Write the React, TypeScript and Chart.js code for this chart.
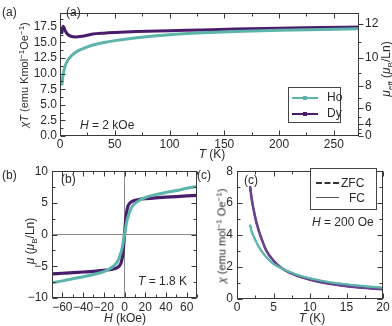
import React, { useEffect, useRef } from 'react';
import { Chart, registerables } from 'chart.js';

Chart.register(...registerables);

// ---------- Data ----------
// Panel (a): chi*T vs T at H = 2 kOe
const tA = [1.8, 2, 2.5, 3, 4, 5, 7, 10, 14, 20, 30, 40, 50, 70, 100, 130, 160, 200, 240, 273];
const chiTHo = [8.3, 8.7, 9.4, 10.0, 10.8, 11.4, 12.1, 12.8, 13.4, 13.95, 14.6, 15.0, 15.3, 15.75, 16.25, 16.55, 16.75, 16.95, 17.1, 17.2];
const chiTDy = [16.6, 16.9, 17.4, 17.6, 17.2, 16.8, 16.3, 16.0, 15.9, 16.0, 16.35, 16.5, 16.6, 16.75, 16.9, 17.0, 17.15, 17.3, 17.4, 17.5];
const xTicksA = [0, 50, 100, 150, 200, 250];
const yTicksA = [0, 2.5, 5, 7.5, 10, 12.5, 15, 17.5];
const muEffTicks = [0, 4, 6, 8, 10, 12];
const muEffMinor = [2, 3, 5, 7, 9, 11];

// Panel (b): mu vs H at T = 1.8 K
const hB = [-70, -60, -50, -40, -30, -20, -15, -10, -7, -5, -4, -3, -2, -1.5, -1, -0.5, 0, 0.5, 1, 1.5, 2, 3, 4, 5, 7, 10, 15, 20, 30, 40, 50, 60, 70];
const muHo = [-7.6, -7.3, -6.95, -6.65, -6.3, -5.85, -5.45, -4.9, -4.3, -3.6, -3.1, -2.6, -1.9, -1.45, -1.0, -0.5, 0, 0.5, 1.0, 1.45, 1.9, 2.6, 3.1, 3.6, 4.3, 4.9, 5.45, 5.85, 6.3, 6.65, 6.95, 7.3, 7.6];
const muDy = [-6.2, -6.1, -6.0, -5.9, -5.8, -5.65, -5.55, -5.4, -5.2, -4.95, -4.7, -4.3, -3.5, -2.9, -2.1, -1.1, 0, 1.1, 2.1, 2.9, 3.5, 4.3, 4.7, 4.95, 5.2, 5.4, 5.55, 5.65, 5.8, 5.9, 6.0, 6.1, 6.2];
const xTicksB = [-60, -40, -20, 0, 20, 40, 60];
const yTicksB = [-10, -5, 0, 5, 10];

// Panel (c): chi vs T at H = 200 Oe (ZFC and FC coincide)
const tC = [1.8, 2, 2.5, 3, 3.5, 4, 5, 6, 7, 8, 9, 10, 12, 14, 16, 18, 20];
const chiDy = [7.0, 6.3, 5.1, 4.25, 3.6, 3.05, 2.4, 1.97, 1.7, 1.5, 1.34, 1.21, 1.01, 0.87, 0.76, 0.68, 0.61];
const chiHo = [4.6, 4.25, 3.7, 3.25, 2.92, 2.63, 2.2, 1.94, 1.73, 1.55, 1.41, 1.3, 1.11, 0.97, 0.87, 0.78, 0.71];
const xTicksC = [0, 5, 10, 15, 20];
const yTicksC = [0, 2, 4, 6, 8];

// ---------- Styles ----------
const TEAL = '#5cb4ab';
const PURPLE = '#4a1c6c';
const AXIS = '#3a3a3a';
const TXT = '#2a2a2a';
const FONT = '"Liberation Sans", Arial, Helvetica, sans-serif';

Chart.defaults.font.family = FONT;
Chart.defaults.font.size = 12;
Chart.defaults.color = TXT;

const framePlugin = {
  id: 'frame',
  afterDraw(chart: any, _args: any, o: any) {
    const { ctx, chartArea: a, scales } = chart;
    const L = Math.round(a.left) + 0.5;
    const R = Math.round(a.right) - 0.5;
    const T = Math.round(a.top) + 0.5;
    const B = Math.round(a.bottom) - 0.5;
    ctx.save();
    ctx.strokeStyle = AXIS;
    ctx.lineWidth = 1;
    ctx.strokeRect(L, T, R - L, B - T);
    ctx.beginPath();
    const isMajor = (v: number, step: number) => Math.abs(v / step - Math.round(v / step)) < 1e-6;
    const sx = scales.x;
    let v = Math.ceil(sx.min / o.xMinor - 1e-9) * o.xMinor;
    for (; v <= sx.max + 1e-9; v += o.xMinor) {
      const px = Math.round(sx.getPixelForValue(v)) + 0.5;
      const len = isMajor(v, o.xMajor) ? 5 : 3;
      ctx.moveTo(px, B); ctx.lineTo(px, B - len);
      ctx.moveTo(px, T); ctx.lineTo(px, T + len);
    }
    const sy = scales.y;
    v = Math.ceil(sy.min / o.yMinor - 1e-9) * o.yMinor;
    for (; v <= sy.max + 1e-9; v += o.yMinor) {
      const py = Math.round(sy.getPixelForValue(v)) + 0.5;
      const len = isMajor(v, o.yMajor) ? 5 : 3;
      ctx.moveTo(L, py); ctx.lineTo(L + len, py);
      if (o.mirrorY) { ctx.moveTo(R, py); ctx.lineTo(R - len, py); }
    }
    if (o.y2) {
      const s2 = scales.y2;
      o.y2.majors.forEach((m: number) => {
        const py = Math.round(s2.getPixelForValue((m * m) / 8)) + 0.5;
        ctx.moveTo(R, py); ctx.lineTo(R + 5, py);
      });
      o.y2.minors.forEach((m: number) => {
        const py = Math.round(s2.getPixelForValue((m * m) / 8)) + 0.5;
        ctx.moveTo(R, py); ctx.lineTo(R + 3, py);
      });
    }
    ctx.stroke();
    ctx.restore();
  },
};

const fmtMinus = (v: number) => (v < 0 ? '\u2212' + Math.abs(v) : String(v));

function linScale(min: number, max: number, ticks: number[], size: number, axis: 'x' | 'y', padding: number, fmt?: (v: number) => string, zeroLine = false, position?: string) {
  return {
    type: 'linear',
    position: position || (axis === 'x' ? 'bottom' : 'left'),
    min,
    max,
    afterBuildTicks: (s: any) => { s.ticks = ticks.map((t) => ({ value: t })); },
    afterFit: (s: any) => { if (axis === 'x') s.height = size; else s.width = size; },
    grid: zeroLine
      ? { display: true, drawTicks: false, drawOnChartArea: true, lineWidth: 1, color: (c: any) => (c.tick && c.tick.value === 0 ? '#8a8a8a' : 'rgba(0,0,0,0)') }
      : { display: false, drawTicks: false },
    border: { display: false },
    ticks: { padding, color: TXT, font: { size: 12 }, maxRotation: 0, autoSkip: false, callback: (val: any) => (fmt ? fmt(Number(val)) : String(val)) },
  };
}

const pts = (xs: number[], ys: number[]) => xs.map((x, i) => ({ x, y: ys[i] }));

function baseOptions(padding: any, scales: any, frame: any) {
  return {
    animation: false,
    responsive: false,
    maintainAspectRatio: false,
    layout: { padding },
    plugins: { legend: { display: false }, tooltip: { enabled: false }, frame },
    elements: { point: { radius: 0 }, line: { cubicInterpolationMode: 'monotone', borderCapStyle: 'round', borderJoinStyle: 'round' } },
    scales,
  };
}

function configA(): any {
  return {
    type: 'line',
    data: {
      datasets: [
        { label: 'Ho', data: pts(tA, chiTHo), borderColor: TEAL, borderWidth: 3 },
        { label: 'Dy', data: pts(tA, chiTDy), borderColor: PURPLE, borderWidth: 3 },
      ],
    },
    options: baseOptions(
      { top: 2, right: 0, left: 0, bottom: 0 },
      {
        x: linScale(0, 273, xTicksA, 29, 'x', 1),
        y: linScale(0, 19.7, yTicksA, 60, 'y', 3, (v) => v.toFixed(1)),
        y2: {
          ...linScale(0, 19.7, [], 33, 'y', 6, undefined, false, 'right'),
          afterBuildTicks: (s: any) => { s.ticks = muEffTicks.map((m) => ({ value: (m * m) / 8 })); },
          ticks: {
            padding: 6, color: TXT, font: { size: 12 }, autoSkip: false,
            callback: (val: any) => String(Math.round(Math.sqrt(8 * Number(val)))),
          },
        },
      },
      { xMajor: 50, xMinor: 25, yMajor: 2.5, yMinor: 1.25, mirrorY: false, y2: { majors: muEffTicks, minors: muEffMinor } }
    ),
    plugins: [framePlugin],
  };
}

function configB(): any {
  return {
    type: 'line',
    data: {
      datasets: [
        { label: 'Ho', data: pts(hB, muHo), borderColor: TEAL, borderWidth: 3 },
        { label: 'Dy', data: pts(hB, muDy), borderColor: PURPLE, borderWidth: 3.2 },
      ],
    },
    options: baseOptions(
      { top: 7, right: 3, left: 0, bottom: 0 },
      {
        x: linScale(-70, 70, xTicksB, 28, 'x', 2, fmtMinus, true),
        y: linScale(-10, 10, yTicksB, 52, 'y', 4, fmtMinus, true),
      },
      { xMajor: 20, xMinor: 10, yMajor: 5, yMinor: 2.5, mirrorY: true }
    ),
    plugins: [framePlugin],
  };
}

function configC(): any {
  return {
    type: 'line',
    data: {
      datasets: [
        { label: 'Ho FC', data: pts(tC, chiHo), borderColor: TEAL, borderWidth: 2.2 },
        { label: 'Ho ZFC', data: pts(tC, chiHo), borderColor: '#3f958c', borderWidth: 1.6, borderDash: [4, 2] },
        { label: 'Dy FC', data: pts(tC, chiDy), borderColor: '#6a4390', borderWidth: 2.6 },
        { label: 'Dy ZFC', data: pts(tC, chiDy), borderColor: PURPLE, borderWidth: 2, borderDash: [4, 2] },
      ],
    },
    options: baseOptions(
      { top: 8, right: 9, left: 0, bottom: 0 },
      {
        x: linScale(0, 20, xTicksC, 27, 'x', 1),
        y: linScale(0, 8, yTicksC, 37, 'y', 4),
      },
      { xMajor: 5, xMinor: 2.5, yMajor: 2, yMinor: 1, mirrorY: true }
    ),
    plugins: [framePlugin],
  };
}

function ChartCanvas({ make, left, top, width, height }: any) {
  const ref = useRef<HTMLCanvasElement | null>(null);
  useEffect(() => {
    if (!ref.current) return;
    const c = new Chart(ref.current, make());
    return () => c.destroy();
  }, []);
  return <canvas ref={ref} width={width} height={height} style={{ position: 'absolute', left, top, width, height }} />;
}

const sup = (t: string) => <span style={{ fontSize: '8px', position: 'relative', top: '-4px' }}>{t}</span>;
const sub = (t: string) => <span style={{ fontSize: '8px', position: 'relative', top: '3px' }}>{t}</span>;

function Label({ x, y, children, center = false, rotate = false, size = 12 }: any) {
  const transform = rotate ? 'translate(-50%,-50%) rotate(-90deg)' : center ? 'translate(-50%,-50%)' : 'translateY(-50%)';
  return (
    <div style={{ position: 'absolute', left: x, top: y, transform, whiteSpace: 'nowrap', fontFamily: FONT, fontSize: size, lineHeight: 1, color: TXT }}>
      {children}
    </div>
  );
}

export default function App() {
  return (
    <div style={{ position: 'fixed', left: 0, top: 0, width: 392, height: 326, background: '#fff', overflow: 'hidden' }}>
      <ChartCanvas make={configA} left={0} top={0} width={392} height={165} />
      <ChartCanvas make={configB} left={0} top={160} width={200} height={166} />
      <ChartCanvas make={configC} left={200} top={160} width={192} height={166} />

      {/* Panel (a) */}
      <Label x={2} y={12}>(a)</Label>
      <Label x={66} y={12}>(a)</Label>
      <Label x={24} y={75} rotate size={11}><i>χT</i> (emu Kmol{sup('−1')}Oe{sup('−1')})</Label>
      <Label x={386} y={69} rotate><i>μ</i>{sub('eff')} (<i>μ</i>{sub('B')}/Ln)</Label>
      <Label x={212} y={154} center><i>T</i> (K)</Label>
      <Label x={80} y={125}><i>H</i> = 2 kOe</Label>
      <div style={{ position: 'absolute', left: 288, top: 87, width: 53, height: 36, border: '1px solid #444', boxSizing: 'border-box', background: '#fff' }}>
        <div style={{ position: 'absolute', left: 3, top: 9, width: 26, height: 2, background: TEAL }} />
        <div style={{ position: 'absolute', left: 14, top: 8, width: 4, height: 4, background: TEAL }} />
        <div style={{ position: 'absolute', left: 3, top: 25, width: 26, height: 2, background: PURPLE }} />
        <div style={{ position: 'absolute', left: 14, top: 24, width: 4, height: 4, background: PURPLE }} />
      </div>
      <Label x={327} y={97}>Ho</Label>
      <Label x={327} y={113}>Dy</Label>

      {/* Panel (b) */}
      <Label x={2} y={175}>(b)</Label>
      <Label x={61} y={179}>(b)</Label>
      <Label x={30} y={241} rotate><i>μ</i> (<i>μ</i>{sub('B')}/Ln)</Label>
      <Label x={125} y={318} center><i>H</i> (kOe)</Label>
      <Label x={138} y={281}><i>T</i> = 1.8 K</Label>

      {/* Panel (c) */}
      <Label x={197} y={175}>(c)</Label>
      <Label x={244} y={180}>(c)</Label>
      <Label x={222} y={236} rotate size={11}><i>χ</i> (emu mol{sup('−1')} Oe{sup('−1')})</Label>
      <Label x={312} y={318} center><i>T</i> (K)</Label>
      <Label x={312} y={222}><i>H</i> = 200 Oe</Label>
      <div style={{ position: 'absolute', left: 310, top: 168, width: 67, height: 42, border: '1px solid #444', boxSizing: 'border-box', background: '#fff' }}>
        <div style={{ position: 'absolute', left: 5, top: 13, width: 23, height: 0, borderTop: '2px dashed #333' }} />
        <div style={{ position: 'absolute', left: 5, top: 28, width: 23, height: 0, borderTop: '1.5px solid #555' }} />
      </div>
      <Label x={341} y={183}>ZFC</Label>
      <Label x={349} y={198}>FC</Label>
    </div>
  );
}
